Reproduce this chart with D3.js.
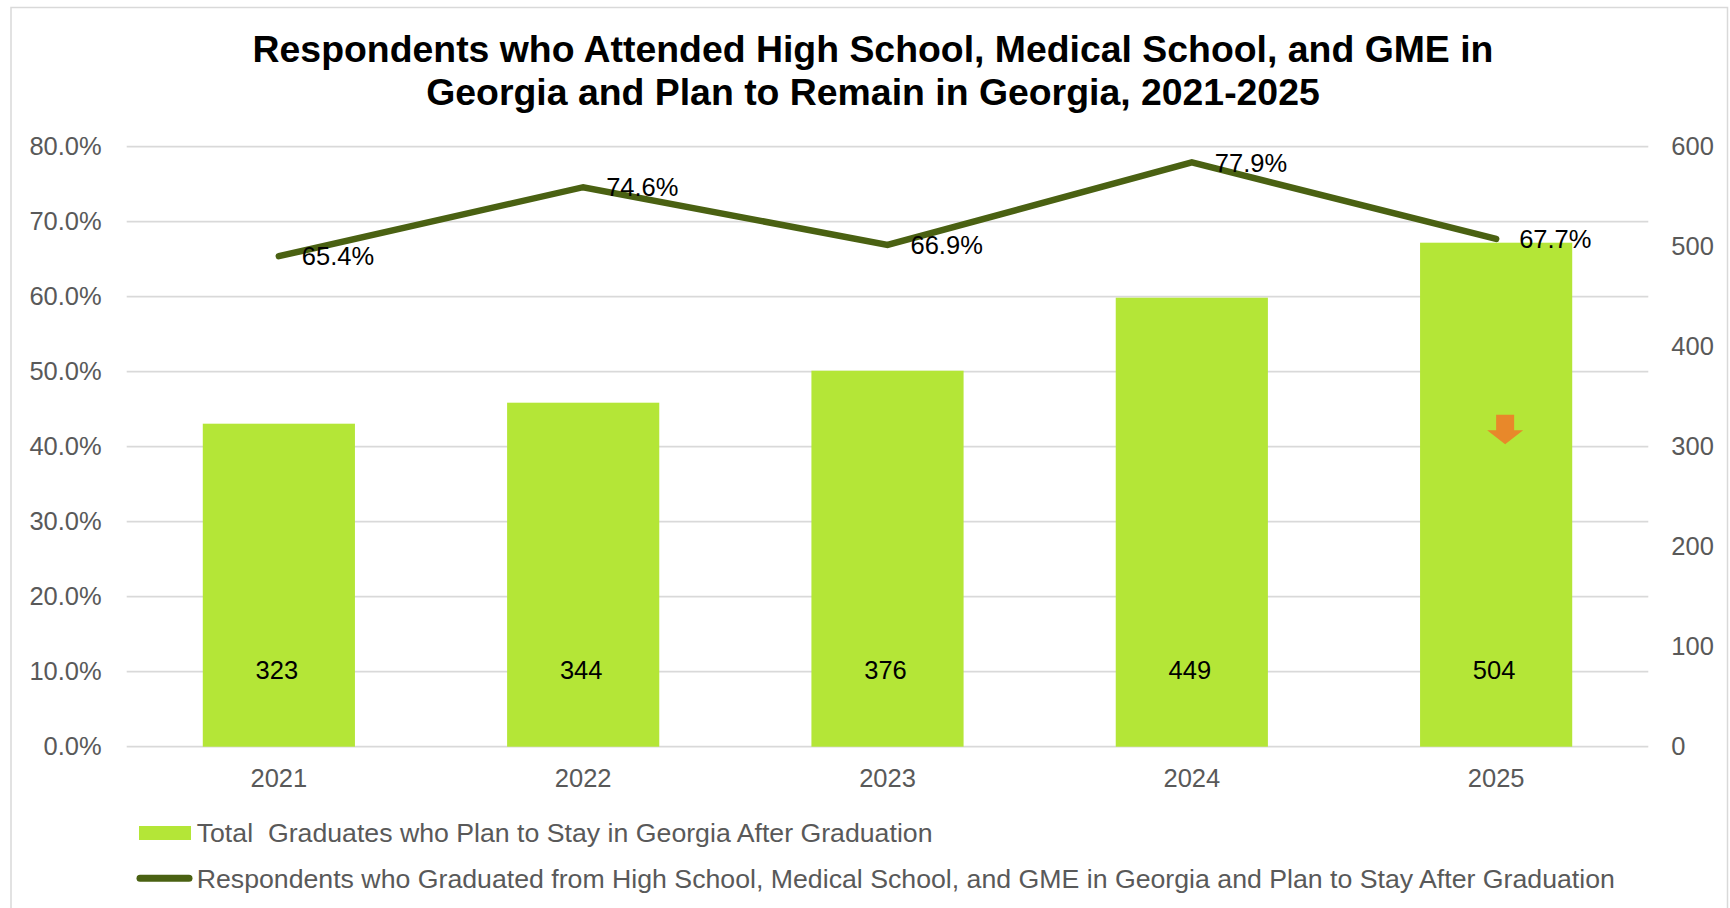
<!DOCTYPE html>
<html>
<head>
<meta charset="utf-8">
<script src="https://cdn.jsdelivr.net/npm/d3@7/dist/d3.min.js"></script>
<style>
  html, body { margin: 0; padding: 0; background: #fff; }
  svg { display: block; font-family: Arial, "Liberation Sans", sans-serif; }
</style>
</head>
<body>
<svg id="chart" width="1730" height="908"></svg>
<script>
// ---- data ----
const years = ["2021", "2022", "2023", "2024", "2025"];
const totalStaying = [323, 344, 376, 449, 504];
const pctStaying = [0.654, 0.746, 0.669, 0.779, 0.677];
const leftTicks = [0, 0.1, 0.2, 0.3, 0.4, 0.5, 0.6, 0.7, 0.8];
const rightTicks = [0, 100, 200, 300, 400, 500, 600];
const titleLines = [
  "Respondents who Attended High School, Medical School, and GME in",
  "Georgia and Plan to Remain in Georgia, 2021-2025"
];
const legendLabels = [
  "Total  Graduates who Plan to Stay in Georgia After Graduation",
  "Respondents who Graduated from High School, Medical School, and GME in Georgia and Plan to Stay After Graduation"
];

// ---- layout ----
const svg = d3.select("#chart");
const plot = { left: 126.7, right: 1648.3, top: 146.7, bottom: 746.7 };
const barColor = "#B4E637";
const lineColor = "#4A6112";
const gridColor = "#D9D9D9";
const axisText = "#595959";
const fs = 25.5;

// chart border
svg.append("rect")
  .attr("x", 11).attr("y", 7.5).attr("width", 1716.5).attr("height", 920)
  .attr("fill", "#fff").attr("stroke", gridColor).attr("stroke-width", 1.5);

const x = d3.scaleBand().domain(years).range([plot.left, plot.right])
  .paddingInner(0.5).paddingOuter(0.25);
const yL = d3.scaleLinear().domain([0, 0.8]).range([plot.bottom, plot.top]);
const yR = d3.scaleLinear().domain([0, 600]).range([plot.bottom, plot.top]);
const cx = d => x(d) + x.bandwidth() / 2;

// gridlines
svg.append("g").selectAll("line").data(leftTicks).join("line")
  .attr("x1", plot.left).attr("x2", plot.right)
  .attr("y1", d => yL(d)).attr("y2", d => yL(d))
  .attr("stroke", gridColor).attr("stroke-width", 1.8);

// left axis
const gL = svg.append("g").attr("transform", `translate(${plot.left},0)`)
  .call(d3.axisLeft(yL).tickValues(leftTicks).tickFormat(d3.format(".1%")).tickSize(0).tickPadding(25));
gL.select(".domain").remove();
gL.selectAll("text").attr("font-size", fs).attr("fill", axisText).attr("font-family", "Arial, 'Liberation Sans', sans-serif");

// right axis
const gR = svg.append("g").attr("transform", `translate(${plot.right},0)`)
  .call(d3.axisRight(yR).tickValues(rightTicks).tickFormat(d3.format("d")).tickSize(0).tickPadding(23));
gR.select(".domain").remove();
gR.selectAll("text").attr("font-size", fs).attr("fill", axisText).attr("font-family", "Arial, 'Liberation Sans', sans-serif");

// bars
svg.append("g").selectAll("rect").data(years).join("rect")
  .attr("x", d => x(d)).attr("width", x.bandwidth())
  .attr("y", (d, i) => yR(totalStaying[i]))
  .attr("height", (d, i) => yR(0) - yR(totalStaying[i]))
  .attr("fill", barColor);

// bottom axis
const gB = svg.append("g").attr("transform", `translate(0,${plot.bottom})`)
  .call(d3.axisBottom(x).tickSize(0).tickPadding(22));
gB.select(".domain").remove();
gB.selectAll("text").attr("font-size", fs).attr("fill", axisText).attr("font-family", "Arial, 'Liberation Sans', sans-serif");

// bar labels
svg.append("g").selectAll("text").data(years).join("text")
  .attr("x", d => cx(d) - 2).attr("y", yR(0) - 68)
  .attr("text-anchor", "middle").attr("font-size", fs).attr("fill", "#000")
  .text((d, i) => totalStaying[i]);

// line
const line = d3.line().x(d => cx(d[0])).y(d => yL(d[1]));
svg.append("path")
  .datum(years.map((y, i) => [y, pctStaying[i]]))
  .attr("d", line).attr("fill", "none").attr("stroke", lineColor)
  .attr("stroke-width", 6.5).attr("stroke-linecap", "round").attr("stroke-linejoin", "miter");

// line labels
svg.append("g").selectAll("text").data(years).join("text")
  .attr("x", d => cx(d) + 23).attr("y", (d, i) => yL(pctStaying[i]))
  .attr("dy", "0.36em").attr("font-size", fs).attr("fill", "#000")
  .text((d, i) => d3.format(".1%")(pctStaying[i]));

// orange down arrow annotation on 2025 bar
{
  const ax = cx("2025") + 9;
  const top = yR(332), mid = yR(316.5), tip = yR(302.5);
  const sw = 9, hw = 18;
  svg.append("path")
    .attr("d", `M${ax - sw},${top} L${ax + sw},${top} L${ax + sw},${mid} L${ax + hw},${mid} L${ax},${tip} L${ax - hw},${mid} L${ax - sw},${mid} Z`)
    .attr("fill", "#E8882A");
}

// title
svg.append("g").selectAll("text").data(titleLines).join("text")
  .attr("x", 873).attr("y", (d, i) => 62 + i * 43)
  .attr("text-anchor", "middle").attr("font-size", 37.4).attr("font-weight", "bold")
  .attr("fill", "#000").text(d => d);

// legend
const lg = svg.append("g");
lg.append("rect").attr("x", 139).attr("y", 826).attr("width", 52).attr("height", 14).attr("fill", barColor);
lg.append("line").attr("x1", 140).attr("x2", 189).attr("y1", 878.3).attr("y2", 878.3)
  .attr("stroke", lineColor).attr("stroke-width", 7).attr("stroke-linecap", "round");
lg.selectAll("text").data(legendLabels).join("text")
  .attr("x", 196.7).attr("y", (d, i) => 841.5 + i * 46)
  .attr("font-size", 26.7).attr("fill", axisText).style("white-space", "pre")
  .text(d => d);
</script>
</body>
</html>
